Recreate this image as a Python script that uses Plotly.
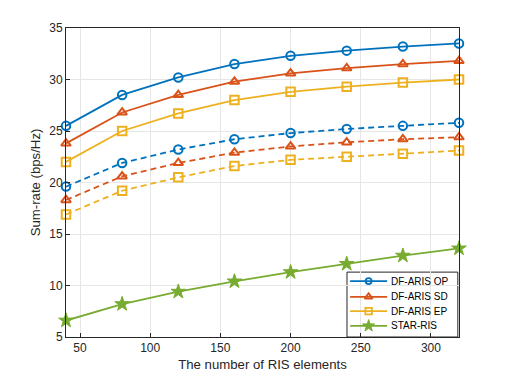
import plotly.graph_objects as go

# RIS element counts
n_elements = [40, 80, 120, 160, 200, 240, 280, 320]

# sum-rate values (bps/Hz)
op_solid = [25.5, 28.5, 30.2, 31.5, 32.3, 32.8, 33.2, 33.5]
sd_solid = [23.8, 26.8, 28.5, 29.8, 30.6, 31.1, 31.5, 31.8]
ep_solid = [22.0, 25.0, 26.7, 28.0, 28.8, 29.3, 29.7, 30.0]
op_dash = [19.6, 21.9, 23.2, 24.2, 24.8, 25.2, 25.5, 25.8]
sd_dash = [18.3, 20.6, 21.9, 22.9, 23.5, 23.9, 24.2, 24.4]
ep_dash = [16.9, 19.2, 20.5, 21.6, 22.2, 22.5, 22.8, 23.1]
star_ris = [6.6, 8.2, 9.4, 10.4, 11.3, 12.1, 12.9, 13.6]

legend_names = ["DF-ARIS OP", "DF-ARIS SD", "DF-ARIS EP", "STAR-RIS"]

BLUE = "#0072BD"
ORANGE = "#D95319"
YELLOW = "#EDB120"
GREEN = "#77AC30"

FAMILY = "Liberation Sans, Arial, sans-serif"
tick_font = {"family": FAMILY, "size": 12, "color": "#262626"}
label_font = {"family": FAMILY, "size": 13.2, "color": "#262626"}

# colour, symbol, marker size on plot, marker size in legend
styles = {
    "DF-ARIS OP": (BLUE, "circle-open", 8.5, 6),
    "DF-ARIS SD": (ORANGE, "triangle-up-open", 8.5, 7),
    "DF-ARIS EP": (YELLOW, "square-open", 8.5, 6.5),
    "STAR-RIS": (GREEN, "star", 11, 9),
}

fig = go.Figure()

series = [
    (op_solid, "DF-ARIS OP", "solid"),
    (sd_solid, "DF-ARIS SD", "solid"),
    (ep_solid, "DF-ARIS EP", "solid"),
    (op_dash, "DF-ARIS OP", "6px,4px"),
    (sd_dash, "DF-ARIS SD", "6px,4px"),
    (ep_dash, "DF-ARIS EP", "6px,4px"),
    (star_ris, "STAR-RIS", "solid"),
]

for vals, name, dash in series:
    color, sym, size, _ = styles[name]
    fig.add_trace(go.Scatter(x=n_elements, y=vals, mode="lines+markers", name=name,
                             showlegend=False, cliponaxis=False,
                             line=dict(color=color, width=1.8, dash=dash),
                             marker=dict(symbol=sym, size=size, color=color,
                                         line=dict(color=color, width=2 if sym != "star" else 1))))

# MATLAB-style legend box, drawn in paper units on a hidden overlay axis
box_x0, box_x1, box_y0, box_y1 = 0.715, 0.997, 0.0, 0.210
row_y = [0.181, 0.130, 0.084, 0.036]
sample_x = [0.723, 0.817]
for name, yy in zip(legend_names, row_y):
    color, sym, _, lsize = styles[name]
    fig.add_trace(go.Scatter(x=sample_x, y=[yy, yy], mode="lines", xaxis="x2", yaxis="y2",
                             showlegend=False, hoverinfo="skip",
                             line=dict(color=color, width=1.8)))
    fig.add_trace(go.Scatter(x=[sum(sample_x) / 2], y=[yy], mode="markers", xaxis="x2", yaxis="y2",
                             showlegend=False, hoverinfo="skip",
                             marker=dict(symbol=sym, size=lsize, color=color,
                                         line=dict(color=color, width=1.8 if sym != "star" else 1))))
    fig.add_annotation(x=0.822, y=yy, xref="x2", yref="y2", text=name, showarrow=False,
                       xanchor="left", yanchor="middle",
                       font=dict(family=FAMILY, size=10, color="#000"))

fig.add_shape(type="rect", xref="paper", yref="paper",
              x0=box_x0, x1=box_x1, y0=box_y0, y1=box_y1,
              line=dict(color="#262626", width=1), fillcolor="#fff", layer="between")

axis_common = dict(showline=True, linecolor="#262626", linewidth=1, mirror=True,
                   ticks="inside", ticklen=4, tickcolor="#262626",
                   showgrid=True, gridcolor="#e6e6e6", gridwidth=1,
                   zeroline=False, tickfont=tick_font, automargin=False)

fig.update_layout(
    xaxis=dict(range=[40, 320], tickvals=[50, 100, 150, 200, 250, 300],
               title=dict(text="The number of RIS elements", font=label_font, standoff=5),
               **axis_common),
    yaxis=dict(range=[5, 35], tickvals=[5, 10, 15, 20, 25, 30, 35],
               title=dict(text="Sum-rate (bps/Hz)", font=label_font, standoff=5),
               **axis_common),
    xaxis2=dict(range=[0, 1], visible=False, overlaying="x", anchor="y2"),
    yaxis2=dict(range=[0, 1], visible=False, overlaying="y", anchor="x2"),
)

fig.update_layout(width=506, height=379,
                  margin=dict(l=66, r=47, t=28, b=42),
                  plot_bgcolor="#fff", paper_bgcolor="#fff",
                  font=tick_font, showlegend=False)

fig.write_html("out.html", config={"displayModeBar": False},
               post_script="document.body.style.margin='0';")
